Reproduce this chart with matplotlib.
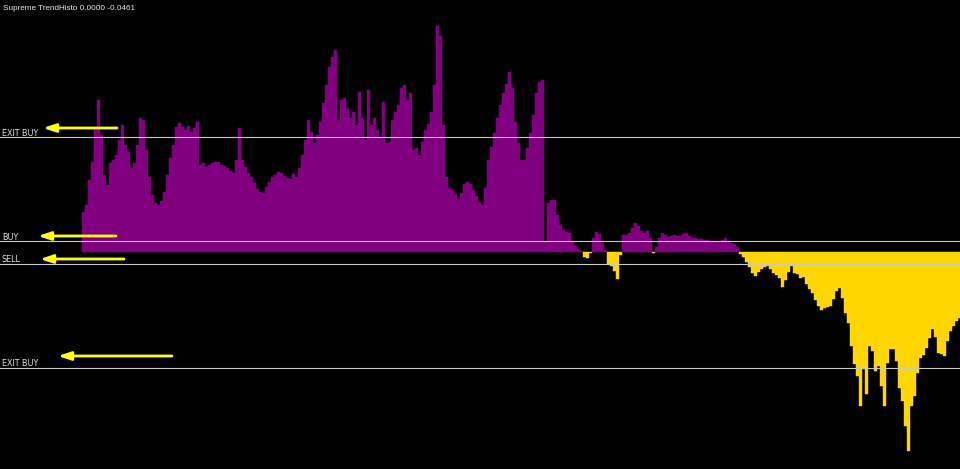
import matplotlib
matplotlib.use("Agg")
import matplotlib.pyplot as plt
import numpy as np

# histogram values (one value per bar, left to right)
trend_part1 = [40, 47, 72, 90, 124, 152, 117, 77, 67, 89,
               92, 97, 112, 127, 107, 100, 84, 89, 107, 134,
               132, 102, 75, 57, 49, 47, 51, 60, 77, 94,
               107, 125, 129, 125, 122, 126, 120, 124, 130, 87,
               89, 85, 87, 89, 90, 90, 87, 86, 84, 81,
               79, 92, 124, 92, 85]
trend_part2 = [79, 75, 69, 63, 60, 59, 65, 70, 75, 77,
               80, 79, 76, 74, 73, 78, 75, 84, 97, 112,
               132, 120, 109, 117, 130, 149, 167, 185, 195, 202,
               132, 152, 154, 144, 134, 140, 127, 160, 134, 112,
               162, 127, 134, 122, 114, 150, 109, 110, 132, 140,
               147]
trend_part3 = [164, 167, 152, 159, 102, 104, 97, 110, 122, 128,
               140, 167, 226, 216, 127, 75, 64, 62, 58, 52,
               59, 68, 70, 68, 62, 56, 50, 47, 64, 92,
               105, 119, 134, 147, 159, 168, 180, 164, 130, 109,
               92, 92, 104, 119, 137, 159, 170, 172, 10]
trend_part4 = [49, 52, 52, 37, 27, 22, 20, 19, 10, 6,
               3, 1, -4, -5, -1, 14, 20, 18, 9, 2,
               -11, -13, -18, -26, -3, 17, 17, 19, 24, 29,
               26, 21, 19, 21, 14, -1, 5, 14, 19, 17,
               15, 16, 17, 16, 16, 18, 19, 16, 14, 14,
               13, 13, 12, 12, 11, 11, 11, 10, 12, 14,
               10, 9, 8, 5]
trend_part5 = [-2, -4, -9, -14, -20, -23, -19, -16, -14, -13,
               -16, -20, -22, -25, -34, -27, -19, -13, -20, -21,
               -25, -24, -31, -36, -40, -47, -53, -57, -55, -54,
               -53, -46, -38, -35, -45, -60, -70, -93, -111, -123,
               -153, -116, -141, -93, -98, -118, -113, -133, -153, -110,
               -96, -96, -108, -135, -148, -173, -198, -153, -143, -120,
               -105, -102, -95, -85, -76, -84, -100, -101, -103, -88,
               -78, -73, -68, -65]

# level lines and their names
levels = [115, 11, -11, -115]
level_names = ["EXIT BUY", "BUY", "SELL", "EXIT BUY"]

title_text = "Supreme TrendHisto 0.0000 -0.0461"

values = np.array(trend_part1 + trend_part2 + trend_part3 + trend_part4 + trend_part5)
x = np.arange(len(values))
colors = np.where(values >= 0, "#800080", "#FFD700")

fig = plt.figure(figsize=(9.6, 4.69), dpi=100)
fig.patch.set_facecolor("black")
ax = fig.add_axes([0, 0, 1, 1])
ax.set_facecolor("black")

# the bars
ax.bar(x, values, width=1.0, color=colors, edgecolor=colors, linewidth=0.3, zorder=2)

# level lines on top of the bars
for lv in levels:
    ax.axhline(lv, color="#c8c8c8", linewidth=0.8, zorder=3)

ax.set_xlim(-27.83, 292.17)
ax.set_ylim(-216.5, 252.5)
ax.axis("off")

# labels just above each line (x in axes fraction, y in data)
label_y = [117.0, 12.5, -9.3, -113.5]
for name, ly in zip(level_names, label_y):
    ax.text(0.002, ly, name, transform=ax.get_yaxis_transform(),
            color="#e0e0e0", fontsize=5.8, family="DejaVu Sans", va="baseline", ha="left", zorder=4)

# yellow arrows pointing at the labels (tail -> head, in axes fraction)
arrows = [((117, 128), (43, 128)),
          ((116, 236), (38, 236)),
          ((124, 259), (40, 259)),
          ((172, 356), (58, 356))]
for (x0, y0), (x1, y1) in arrows:
    ax.annotate("", xy=(x1 / 960, 1 - y1 / 469), xytext=(x0 / 960, 1 - y0 / 469),
                xycoords="axes fraction", textcoords="axes fraction",
                arrowprops=dict(arrowstyle="-|>,head_length=0.75,head_width=0.25",
                                color="#ffff00", linewidth=2.0, shrinkA=0, shrinkB=0),
                zorder=5)

# indicator name in the top left corner
ax.text(0.003, 1 - 9.5 / 469, title_text, transform=ax.transAxes,
        color="#e8e8e8", fontsize=5.9, family="Liberation Sans", va="baseline", ha="left")

fig.savefig("out.png", dpi=100, facecolor="black")
